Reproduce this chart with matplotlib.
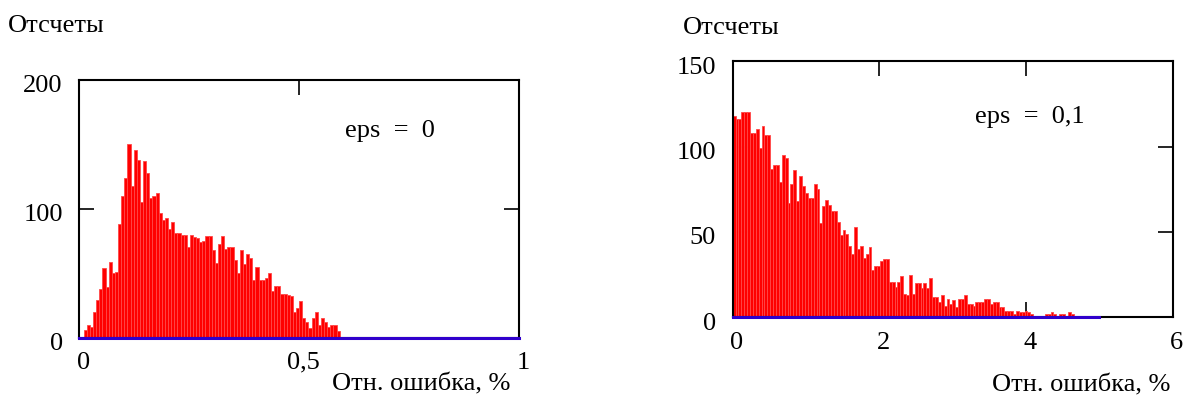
import numpy as np
import matplotlib
matplotlib.use("Agg")
import matplotlib.pyplot as plt
import matplotlib.transforms as mtransforms

plt.rcParams["font.family"] = ["Liberation Serif", "DejaVu Serif"]
plt.rcParams["font.size"] = 19

# histogram counts, eps = 0 (relative error 0 .. ~0.59 %)
left_start = 0.01
left_width = 0.0071
left_counts = [6, 10, 8, 20, 29, 38, 54, 39, 59, 50, 51, 88, 110, 124, 150, 118, 146, 138,
               105, 137, 128, 108, 110, 112, 97, 91, 93, 84,
               90, 81, 81, 80, 80, 70, 80, 78, 77, 74, 75, 79, 79, 68, 58, 73, 79, 69,
               70, 70, 60, 50, 68, 57, 65, 62, 45, 55,
               45, 45, 46, 50, 36, 40, 40, 34, 34, 33, 32, 20, 23, 28, 15, 12, 7, 15,
               20, 10, 15, 12, 8, 10, 10, 5]

# histogram counts, eps = 0,1 (relative error 0 .. ~4.7 %)
right_start = 0.0
right_width = 0.0394
right_counts = [118, 116, 116, 120, 120, 120, 108, 108, 110, 99, 112, 107, 107, 87, 89, 89,
                79, 95, 93, 67, 78, 86, 68, 83, 77, 73, 70, 70, 78, 75, 55, 65, 69, 66,
                62, 62, 56, 48,
                51, 49, 42, 37, 53, 40, 42, 35, 37, 41, 28, 30, 30, 33, 34, 34, 21, 21,
                18, 21, 24, 14, 13, 25, 14, 20, 20, 17, 20, 17, 23, 12, 12, 9, 13, 7,
                11, 8, 10,
                6, 11, 11, 13, 8, 8, 7, 9, 9, 9, 11, 11, 8, 9, 9, 6, 6, 4, 4, 4, 2, 4,
                3, 3, 4, 3, 2, 0, 0, 0, 0, 2, 2, 3, 2, 0, 2, 2, 0, 3, 2]

left_xticks = [0, 0.5, 1]
left_xlabels = ["0", "0,5", "1"]
left_yticks = [0, 100, 200]
right_xticks = [0, 2, 4, 6]
right_xlabels = ["0", "2", "4", "6"]
right_yticks = [0, 50, 100, 150]

ylabel_text = "Отсчеты"
xlabel_text = "Отн. ошибка, %"

fig = plt.figure(figsize=(11.86, 3.98), dpi=100)
ax1 = fig.add_axes([0.0669, 0.152, 0.3707, 0.647])
ax2 = fig.add_axes([0.6178, 0.2023, 0.371, 0.6444])


def draw_hist(ax, start, width, counts, xmax, blue_end, ymax, xticks, xlabels, yticks):
    edges = start + width * np.arange(len(counts))
    ax.bar(edges, counts, width=width, align="edge", color="#ff0000",
           edgecolor="#ff4848", linewidth=0.6, zorder=2)
    ax.plot([0, blue_end], [0, 0], color="#3000cc", lw=2.2, zorder=4, clip_on=False)
    ax.set_xlim(0, xmax)
    ax.set_ylim(0, ymax)
    ax.set_xticks(xticks)
    ax.set_xticklabels(xlabels)
    ax.set_yticks(yticks)
    ax.tick_params(direction="in", length=11, width=1.2, top=True, right=True,
                   labelsize=19, pad=8)
    ax.tick_params(axis="y", pad=12)
    for s in ax.spines.values():
        s.set_linewidth(1.5)
        s.set_color("black")
    # Mathcad puts labels slightly right / below the tick
    off = mtransforms.ScaledTranslation(4 / 100, -3 / 100, fig.dpi_scale_trans)
    for lab in ax.get_xticklabels():
        lab.set_transform(lab.get_transform() + off)
    offy = mtransforms.ScaledTranslation(0, -4 / 100, fig.dpi_scale_trans)
    for lab in ax.get_yticklabels():
        lab.set_transform(lab.get_transform() + offy)


draw_hist(ax1, left_start, left_width, left_counts, 1, 1, 200,
          left_xticks, left_xlabels, left_yticks)
draw_hist(ax2, right_start, right_width, right_counts, 6, 5, 150,
          right_xticks, right_xlabels, right_yticks)

ax1.text(0.605, 0.80, "eps  =  0", transform=ax1.transAxes, fontsize=19,
         ha="left", va="center")
ax2.text(0.55, 0.78, "eps  =  0,1", transform=ax2.transAxes, fontsize=19,
         ha="left", va="center")

fig.text(8 / 1186, 1 - 26 / 398, ylabel_text, fontsize=19, ha="left", va="center")
fig.text(683 / 1186, 1 - 28 / 398, ylabel_text, fontsize=19, ha="left", va="center")
fig.text(510 / 1186, 1 - 384 / 398, xlabel_text, fontsize=19, ha="right", va="center")
fig.text(1170 / 1186, 1 - 385 / 398, xlabel_text, fontsize=19, ha="right", va="center")

plt.savefig("out.png", dpi=100)
